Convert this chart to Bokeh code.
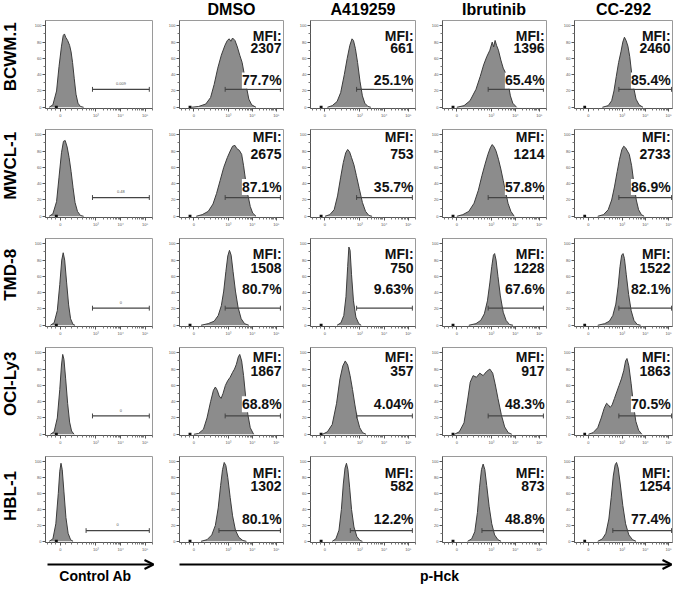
import math
from bokeh.plotting import figure
from bokeh.layouts import row, column, Spacer
from bokeh.models import FixedTicker, Label, Arrow, OpenHead
from bokeh.core.properties import value
from bokeh.embed import file_html
from bokeh.resources import INLINE

FONT = "Liberation Sans"

# ---------------- data ----------------
row_names = ["BCWM.1", "MWCL-1", "TMD-8", "OCI-Ly3", "HBL-1"]
col_names = ["Control Ab", "DMSO", "A419259", "Ibrutinib", "CC-292"]

mfi_values = [
    ["2307", "661", "1396", "2460"],
    ["2675", "753", "1214", "2733"],
    ["1508", "750", "1228", "1522"],
    ["1867", "357", "917", "1863"],
    ["1302", "582", "873", "1254"],
]
pct_values = [
    ["77.7%", "25.1%", "65.4%", "85.4%"],
    ["87.1%", "35.7%", "57.8%", "86.9%"],
    ["80.7%", "9.63%", "67.6%", "82.1%"],
    ["68.8%", "4.04%", "48.3%", "70.5%"],
    ["80.1%", "12.2%", "48.8%", "77.4%"],
]
ctrl_gate_values = ["0.009", "0.48", "0", "0", "0"]

# logicle-like display axis: position of tick marks and their labels
x_ticks = [0, 1.45, 2.45, 3.45]
x_tick_labels = ["0", "10\u00b3", "10\u2074", "10\u2075"]
x_minor = [-0.5, -0.35, -0.2, 0.2, 0.45, 0.7, 0.9, 1.05, 1.17, 1.27, 1.35,
           1.75, 1.93, 2.05, 2.15, 2.23, 2.29, 2.35, 2.4,
           2.75, 2.93, 3.05, 3.15, 3.23, 3.29, 3.35, 3.4, 3.75]
y_ticks = [0, 20, 40, 60, 80, 100]
y_minor = [10, 30, 50, 70, 90]

# gate (x start per row), gate height per row
gate_lo = [1.31, 1.31, 1.31, 1.31, 1.05]
gate_hi = 3.62
gate_y = [22, 23, 21, 22.5, 13.5]

# histograms: (display position, % of max)
bcwm1_ctrl = [(-0.45,0),(-0.3,3),(-0.15,20),(-0.05,50),(0.05,75),(0.12,88),(0.17,90),(0.22,86),(0.3,82),(0.38,76),(0.44,68),(0.5,55),(0.57,35),(0.64,16),(0.72,5),(0.82,1),(0.95,0)]
bcwm1_dmso = [(-0.1,0),(0.2,1),(0.5,4),(0.7,12),(0.85,28),(1.0,48),(1.15,64),(1.3,76),(1.4,82),(1.48,84),(1.55,81),(1.62,85),(1.72,82),(1.82,74),(1.92,64),(2.02,55),(2.1,42),(2.2,25),(2.3,10),(2.42,3),(2.6,0)]
bcwm1_a419 = [(0.1,0),(0.3,2),(0.5,7),(0.65,18),(0.8,40),(0.92,60),(1.03,76),(1.12,84),(1.18,82),(1.26,72),(1.35,55),(1.45,32),(1.55,14),(1.65,5),(1.78,1),(1.9,0)]
bcwm1_ibru = [(0.0,0),(0.3,2),(0.55,8),(0.8,22),(0.98,38),(1.12,52),(1.25,62),(1.38,70),(1.48,80),(1.54,74),(1.6,82),(1.66,76),(1.74,70),(1.84,58),(1.94,48),(2.04,42),(2.14,30),(2.24,14),(2.34,5),(2.5,0)]
bcwm1_cc292 = [(0.6,0),(0.85,2),(1.0,8),(1.1,20),(1.2,38),(1.3,55),(1.4,68),(1.48,80),(1.55,86),(1.62,82),(1.7,75),(1.78,62),(1.86,42),(1.95,24),(2.05,10),(2.18,3),(2.35,0)]

mwcl1_ctrl = [(-0.45,0),(-0.3,3),(-0.15,18),(-0.05,48),(0.05,78),(0.13,92),(0.2,93),(0.28,85),(0.36,72),(0.44,55),(0.52,35),(0.6,17),(0.7,6),(0.82,1),(0.95,0)]
mwcl1_dmso = [(0.1,0),(0.35,2),(0.6,6),(0.8,15),(0.95,28),(1.1,44),(1.25,60),(1.4,72),(1.52,80),(1.62,86),(1.72,87),(1.8,83),(1.9,81),(2.0,76),(2.08,62),(2.16,45),(2.26,26),(2.36,12),(2.46,4),(2.6,0)]
mwcl1_a419 = [(0.0,0),(0.2,2),(0.38,8),(0.52,25),(0.65,48),(0.76,66),(0.86,78),(0.94,82),(1.02,79),(1.1,72),(1.2,63),(1.3,50),(1.42,34),(1.55,17),(1.68,6),(1.82,1),(1.95,0)]
mwcl1_ibru = [(0.0,0),(0.25,2),(0.5,6),(0.72,16),(0.9,32),(1.05,50),(1.18,64),(1.3,76),(1.4,84),(1.48,88),(1.56,85),(1.64,80),(1.74,70),(1.84,58),(1.94,44),(2.04,30),(2.14,16),(2.26,6),(2.4,0)]
mwcl1_cc292 = [(0.4,0),(0.65,2),(0.85,8),(1.0,20),(1.12,36),(1.24,55),(1.34,70),(1.44,82),(1.52,86),(1.6,84),(1.68,80),(1.76,76),(1.86,62),(1.96,40),(2.06,20),(2.16,8),(2.28,2),(2.4,0)]

tmd8_ctrl = [(-0.4,0),(-0.25,3),(-0.12,18),(-0.02,50),(0.06,80),(0.12,89),(0.18,80),(0.26,52),(0.34,25),(0.42,8),(0.52,1),(0.6,0)]
tmd8_dmso = [(0.3,0),(0.6,2),(0.85,5),(1.02,12),(1.15,24),(1.25,42),(1.34,66),(1.42,85),(1.49,92),(1.56,86),(1.64,66),(1.74,42),(1.85,22),(1.98,8),(2.12,2),(2.3,0)]
tmd8_a419 = [(0.5,0),(0.66,3),(0.78,12),(0.87,35),(0.94,72),(0.99,96),(1.04,92),(1.1,62),(1.18,30),(1.28,10),(1.4,2),(1.5,0)]
tmd8_ibru = [(0.5,0),(0.8,2),(1.0,6),(1.15,14),(1.28,30),(1.38,52),(1.46,72),(1.53,86),(1.58,88),(1.64,80),(1.72,60),(1.82,36),(1.94,16),(2.06,6),(2.2,1),(2.35,0)]
tmd8_cc292 = [(0.4,0),(0.7,2),(0.9,5),(1.05,12),(1.18,26),(1.28,48),(1.36,72),(1.43,86),(1.49,88),(1.55,82),(1.63,62),(1.73,38),(1.84,18),(1.96,6),(2.1,1),(2.25,0)]

ocily3_ctrl = [(-0.4,0),(-0.25,3),(-0.12,20),(-0.02,55),(0.05,85),(0.1,98),(0.15,92),(0.22,68),(0.3,38),(0.38,15),(0.46,4),(0.56,0)]
ocily3_dmso = [(0.0,0),(0.2,1),(0.4,6),(0.55,20),(0.7,40),(0.82,54),(0.9,58),(0.98,54),(1.06,47),(1.14,44),(1.22,50),(1.32,60),(1.42,66),(1.52,70),(1.62,76),(1.7,80),(1.78,86),(1.86,95),(1.92,98),(2.0,90),(2.08,72),(2.16,48),(2.26,24),(2.36,8),(2.5,0)]
ocily3_a419 = [(-0.1,0),(0.1,3),(0.3,12),(0.48,38),(0.62,68),(0.74,84),(0.84,90),(0.94,85),(1.04,72),(1.14,55),(1.24,36),(1.34,19),(1.44,8),(1.56,2),(1.7,0)]
ocily3_ibru = [(-0.1,0),(0.1,3),(0.3,14),(0.45,42),(0.56,64),(0.68,72),(0.82,70),(0.96,75),(1.1,72),(1.24,77),(1.38,80),(1.5,75),(1.6,62),(1.72,44),(1.86,24),(2.0,9),(2.15,2),(2.3,0)]
ocily3_cc292 = [(0.0,0),(0.2,2),(0.4,8),(0.55,20),(0.68,32),(0.78,38),(0.86,36),(0.94,33),(1.02,36),(1.12,44),(1.22,52),(1.32,60),(1.42,68),(1.52,78),(1.6,90),(1.66,93),(1.74,84),(1.84,62),(1.94,36),(2.04,16),(2.16,5),(2.3,0)]

hbl1_ctrl = [(-0.45,0),(-0.3,3),(-0.18,22),(-0.08,60),(-0.02,88),(0.03,98),(0.08,90),(0.15,62),(0.23,30),(0.32,10),(0.42,2),(0.52,0)]
hbl1_dmso = [(0.3,0),(0.55,2),(0.75,8),(0.9,20),(1.02,42),(1.12,70),(1.2,90),(1.27,99),(1.34,95),(1.42,80),(1.52,55),(1.62,32),(1.74,14),(1.88,5),(2.05,1),(2.2,0)]
hbl1_a419 = [(0.3,0),(0.45,3),(0.58,14),(0.68,40),(0.76,72),(0.83,92),(0.89,98),(0.95,90),(1.02,68),(1.1,40),(1.2,18),(1.32,6),(1.45,1),(1.55,0)]
hbl1_ibru = [(0.45,0),(0.62,3),(0.75,12),(0.86,36),(0.95,68),(1.03,90),(1.1,97),(1.17,90),(1.25,70),(1.35,44),(1.46,22),(1.58,8),(1.72,2),(1.85,0)]
hbl1_cc292 = [(0.4,0),(0.6,3),(0.75,10),(0.88,28),(0.98,55),(1.07,82),(1.15,96),(1.21,99),(1.28,92),(1.37,72),(1.48,45),(1.6,22),(1.74,8),(1.9,2),(2.05,0)]

histograms = [
    [bcwm1_ctrl, bcwm1_dmso, bcwm1_a419, bcwm1_ibru, bcwm1_cc292],
    [mwcl1_ctrl, mwcl1_dmso, mwcl1_a419, mwcl1_ibru, mwcl1_cc292],
    [tmd8_ctrl, tmd8_dmso, tmd8_a419, tmd8_ibru, tmd8_cc292],
    [ocily3_ctrl, ocily3_dmso, ocily3_a419, ocily3_ibru, ocily3_cc292],
    [hbl1_ctrl, hbl1_dmso, hbl1_a419, hbl1_ibru, hbl1_cc292],
]

# text heights inside panels (in % units) per row
ty_mfi1 = [88, 97, 88, 95, 86]
ty_mfi2 = [73, 77, 70, 78, 69]
ty_pct = [33, 36, 45, 37, 28]

# ---------------- layout (px) ----------------
LABEL_W = 26
col_w = [138, 132, 132, 132, 113]
col_bl = [19, 15, 14, 13, 14]
col_br = [12, 13, 13, 14, 1]
FRAME_H = 88
ROW_B = [21, 21, 21, 21, 10]      # bottom border of each row of panels
HEAD_H = 20
FOOT_H = 31


def x_range_for(c):
    return (-0.6, 3.75) if c < 4 else (-0.6, 3.62)


def style_axes(p):
    for ax in (p.xaxis[0], p.yaxis[0]):
        ax.major_label_text_font_size = "4px"
        ax.major_label_text_color = "#555555"
        ax.major_label_text_font = FONT
        ax.axis_line_color = "#555555"
        ax.major_tick_line_color = "#555555"
        ax.minor_tick_line_color = "#777777"
        ax.major_tick_out = 3
        ax.major_tick_in = 0
        ax.minor_tick_out = 2
        ax.minor_tick_in = 0
        ax.major_label_standoff = 1
    p.xaxis[0].ticker = FixedTicker(ticks=x_ticks, minor_ticks=x_minor)
    p.xaxis[0].major_label_overrides = dict(zip(x_ticks, x_tick_labels))
    p.yaxis[0].ticker = FixedTicker(ticks=y_ticks, minor_ticks=y_minor)


def panel(r, c):
    xr = x_range_for(c)
    p = figure(width=col_w[c], height=FRAME_H + ROW_B[r], x_range=xr, y_range=(-1.5, 106.5),
               min_border_left=col_bl[c], min_border_right=col_br[c],
               min_border_top=0, min_border_bottom=ROW_B[r],
               toolbar_location=None, tools="", output_backend="svg")
    p.grid.visible = False
    p.outline_line_color = "#9a9a9a"
    p.background_fill_color = "white"
    p.border_fill_color = "white"
    style_axes(p)
    pts = histograms[r][c]
    xs = [a for a, b in pts]
    ys = [b for a, b in pts]
    p.varea(x=xs, y1=0, y2=ys, fill_color="#8c8c8c")
    p.line(xs, ys, line_color="#3c3c3c", line_width=1)
    # events piled near zero
    p.segment(x0=[-0.22], y0=[0], x1=[-0.1], y1=[0], line_color="#111111", line_width=3)
    # gate
    hi = gate_hi if c < 4 else 3.58
    gy = gate_y[r]
    p.segment(x0=[gate_lo[r]], y0=[gy], x1=[hi], y1=[gy], line_color="#444444", line_width=1.3)
    p.segment(x0=[gate_lo[r], hi], y0=[gy - 3, gy - 3], x1=[gate_lo[r], hi], y1=[gy + 3, gy + 3],
              line_color="#444444", line_width=1)
    if c == 0:
        p.text(x=[(gate_lo[r] + hi) / 2], y=[gy + 7], text=[ctrl_gate_values[r]],
               text_align="center", text_baseline="middle", text_font=value(FONT),
               text_font_size="4px", text_color="#555555")
    else:
        xt = xr[1] - 0.08
        common = dict(x=xt, text_align="right", text_baseline="middle", text_font=FONT,
                      text_font_style="bold", text_font_size="14px", text_color="#111111")
        p.add_layout(Label(y=ty_mfi1[r], text="MFI:", **common))
        p.add_layout(Label(y=ty_mfi2[r], text=mfi_values[r][c - 1], **common))
        p.add_layout(Label(y=ty_pct[r], text=pct_values[r][c - 1], background_fill_color="white",
                           **common))
    return p


def blank_fig(w, h, xr, yr, **kw):
    f = figure(width=w, height=h, x_range=xr, y_range=yr, x_axis_type=None, y_axis_type=None,
               toolbar_location=None, tools="", output_backend="svg", **kw)
    f.grid.visible = False
    f.outline_line_color = None
    return f


# header row
header_children = [Spacer(width=LABEL_W, height=HEAD_H), Spacer(width=col_w[0], height=HEAD_H)]
for c in range(1, 5):
    xr = x_range_for(c)
    h = blank_fig(col_w[c], HEAD_H, xr, (0, HEAD_H), min_border_left=col_bl[c],
                  min_border_right=col_br[c], min_border_top=0, min_border_bottom=0)
    h.text(x=[(xr[0] + xr[1]) / 2], y=[11.5], text=[col_names[c]], text_align="center",
           text_baseline="middle", text_font=value(FONT), text_font_style="bold",
           text_font_size="16px", text_color="black")
    header_children.append(h)

rows = [row(*header_children)]
for r in range(5):
    rh = FRAME_H + ROW_B[r]
    lf = blank_fig(LABEL_W, rh, (0, LABEL_W), (0, rh), min_border_left=0,
                   min_border_right=0, min_border_top=0, min_border_bottom=0)
    lf.text(x=[10], y=[rh - 45], text=[row_names[r]], angle=math.pi / 2,
            text_align="center", text_baseline="middle", text_font=value(FONT),
            text_font_style="bold", text_font_size="17px", text_color="black")
    rows.append(row(lf, *[panel(r, c) for c in range(5)]))

# footer with axis arrows
total_w = LABEL_W + sum(col_w)
foot = blank_fig(total_w, FOOT_H, (8, 8 + total_w), (0, FOOT_H), min_border_left=0,
                 min_border_right=0, min_border_top=0, min_border_bottom=0)
foot.add_layout(Arrow(x_start=55, y_start=21, x_end=161, y_end=21, line_width=2,
                      end=OpenHead(size=9, line_width=2)))
foot.add_layout(Arrow(x_start=187, y_start=21, x_end=679, y_end=21, line_width=2,
                      end=OpenHead(size=9, line_width=2)))
foot.text(x=[103, 447], y=[9.5, 9.5], text=["Control Ab", "p-Hck"], text_align="center",
          text_baseline="middle", text_font=value(FONT), text_font_style="bold",
          text_font_size="14px", text_color="black")
rows.append(foot)

layout = column(*rows)
open("out.html", "w").write(file_html(layout, INLINE))
